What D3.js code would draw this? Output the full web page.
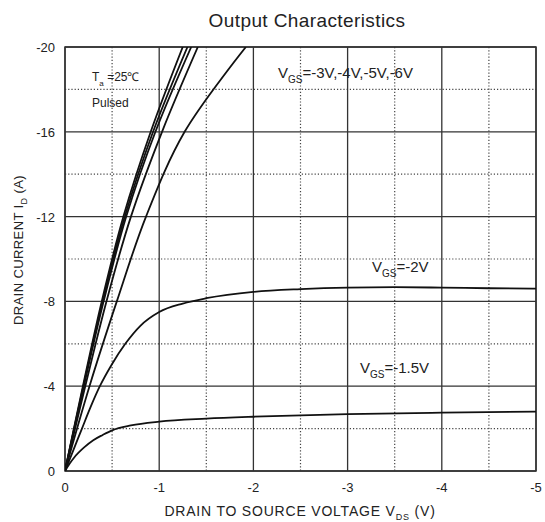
<!DOCTYPE html>
<html>
<head>
<meta charset="utf-8">
<script src="https://cdn.jsdelivr.net/npm/d3@7"></script>
<style>
  body { margin: 0; background: #fff; }
  svg { display: block; font-family: "Liberation Sans", Arial, sans-serif; }
</style>
</head>
<body>
<div id="chart"></div>
<script>
// Data (Vds in V, Id in A)
const xTicks = [0, -1, -2, -3, -4, -5];
const yTicks = [0, -4, -8, -12, -16, -20];

// Vgs = -1.5V
const vds15 = [0, -0.05, -0.1, -0.2, -0.3, -0.4, -0.5, -0.7, -1, -1.5, -2, -3, -4, -5];
const id15 = [0, -0.35, -0.65, -1.1, -1.45, -1.7, -1.92, -2.15, -2.33, -2.47, -2.56, -2.68, -2.75, -2.8];

// Vgs = -2V
const vds20 = [0, -0.09, -0.18, -0.27, -0.37, -0.5, -0.64, -0.8, -1, -1.25, -1.5, -2, -2.5, -3, -3.5, -4, -4.5, -5];
const id20 = [0, -1, -2, -3, -4, -5.05, -6, -6.85, -7.5, -7.9, -8.15, -8.45, -8.58, -8.65, -8.67, -8.65, -8.62, -8.6];

// steep curves, sampled along Id
const idSteep = [0, -4, -8, -12, -16, -20];
const vds25 = [0, -0.26, -0.55, -0.86, -1.27, -1.92];
const vds30 = [0, -0.215, -0.44, -0.70, -1.03, -1.41];
const vds40 = [0, -0.20, -0.41, -0.65, -0.96, -1.34];
const vds50 = [0, -0.195, -0.40, -0.635, -0.935, -1.30];
const vds60 = [0, -0.19, -0.39, -0.62, -0.91, -1.25];

const width = 545, height = 522;
const margin = { top: 47, right: 9, bottom: 51, left: 65 };
const plotW = width - margin.left - margin.right;
const plotH = height - margin.top - margin.bottom;

const svg = d3.select("#chart").append("svg")
    .attr("width", width)
    .attr("height", height);

const x = d3.scaleLinear().domain([0, -5]).range([0, plotW]);
const y = d3.scaleLinear().domain([0, -20]).range([plotH, 0]);

const chart = svg.append("g")
    .attr("transform", `translate(${margin.left},${margin.top})`);

// dotted minor grid
const minorX = [-0.5, -1.5, -2.5, -3.5, -4.5];
const minorY = [-2, -6, -10, -14, -18];
chart.selectAll(".minor-x").data(minorX).enter().append("line")
    .attr("x1", d => x(d)).attr("x2", d => x(d))
    .attr("y1", 0).attr("y2", plotH)
    .attr("stroke", "#444").attr("stroke-width", 1.2)
    .attr("stroke-dasharray", "1.2,2");
chart.selectAll(".minor-y").data(minorY).enter().append("line")
    .attr("x1", 0).attr("x2", plotW)
    .attr("y1", d => y(d)).attr("y2", d => y(d))
    .attr("stroke", "#444").attr("stroke-width", 1.2)
    .attr("stroke-dasharray", "1.2,2");

// solid major grid
chart.selectAll(".major-x").data(xTicks).enter().append("line")
    .attr("x1", d => x(d)).attr("x2", d => x(d))
    .attr("y1", 0).attr("y2", plotH)
    .attr("stroke", "#333").attr("stroke-width", 1.3);
chart.selectAll(".major-y").data(yTicks).enter().append("line")
    .attr("x1", 0).attr("x2", plotW)
    .attr("y1", d => y(d)).attr("y2", d => y(d))
    .attr("stroke", "#333").attr("stroke-width", 1.3);
chart.append("rect")
    .attr("width", plotW).attr("height", plotH)
    .attr("fill", "none").attr("stroke", "#333").attr("stroke-width", 1.5);

// tick labels
chart.selectAll(".xlab").data(xTicks).enter().append("text")
    .attr("x", d => x(d)).attr("y", plotH + 21)
    .attr("text-anchor", "middle")
    .style("font-size", "13px").attr("fill", "#222")
    .text(d => d === 0 ? "0" : "-" + Math.abs(d));
chart.selectAll(".ylab").data(yTicks).enter().append("text")
    .attr("x", -10).attr("y", d => y(d) + 5)
    .attr("text-anchor", "end")
    .style("font-size", "13px").attr("fill", "#222")
    .text(d => d === 0 ? "0" : "-" + Math.abs(d));

// curves
chart.append("clipPath").attr("id", "clip")
    .append("rect").attr("width", plotW).attr("height", plotH);

const flatLine = d3.line()
    .x(d => x(d[0]))
    .y(d => y(d[1]))
    .curve(d3.curveMonotoneX);
const steepLine = d3.line()
    .x(d => x(d[0]))
    .y(d => y(d[1]))
    .curve(d3.curveCatmullRom.alpha(0.5));

const flatCurves = [d3.zip(vds15, id15), d3.zip(vds20, id20)];
const steepCurves = [vds25, vds30, vds40, vds50, vds60].map(v => d3.zip(v, idSteep));

const curveGroup = chart.append("g").attr("clip-path", "url(#clip)");
curveGroup.selectAll(".flat").data(flatCurves).enter().append("path")
    .attr("fill", "none")
    .attr("stroke", "#111")
    .attr("stroke-width", 1.8)
    .attr("d", flatLine);
curveGroup.selectAll(".steep").data(steepCurves).enter().append("path")
    .attr("fill", "none")
    .attr("stroke", "#111")
    .attr("stroke-width", 1.8)
    .attr("d", steepLine);

// annotations
function vgsLabel(px, py, rest) {
    const t = chart.append("text")
        .attr("x", px).attr("y", py)
        .style("font-size", "15px").attr("fill", "#222");
    t.append("tspan").text("V");
    t.append("tspan").attr("dy", 5).style("font-size", "10px").text("GS");
    t.append("tspan").attr("dy", -5).text(rest);
}
vgsLabel(213, 31, "=-3V,-4V,-5V,-6V");
vgsLabel(307, 225, "=-2V");
vgsLabel(295, 326, "=-1.5V");

const ta = chart.append("text")
    .attr("x", 27).attr("y", 34)
    .style("font-size", "12px").attr("fill", "#222");
ta.append("tspan").text("T");
ta.append("tspan").attr("dy", 5).style("font-size", "8px").text("a");
ta.append("tspan").attr("dy", -5).text(" =25℃");
chart.append("text")
    .attr("x", 27).attr("y", 60)
    .style("font-size", "12px").attr("fill", "#222")
    .text("Pulsed");

// titles
svg.append("text")
    .attr("x", 307).attr("y", 27)
    .attr("text-anchor", "middle")
    .style("font-size", "19px").style("letter-spacing", "0.4px").attr("fill", "#222")
    .text("Output Characteristics");

const xt = svg.append("text")
    .attr("x", 300).attr("y", 516)
    .attr("text-anchor", "middle")
    .style("font-size", "14px").style("letter-spacing", "0.8px").attr("fill", "#222");
xt.append("tspan").text("DRAIN TO SOURCE VOLTAGE V");
xt.append("tspan").attr("dy", 4).style("font-size", "9px").text("DS");
xt.append("tspan").attr("dy", -4).text(" (V)");

const yt = svg.append("text")
    .attr("transform", "translate(23,250) rotate(-90)")
    .attr("text-anchor", "middle")
    .style("font-size", "13px").style("letter-spacing", "0.4px").attr("fill", "#222");
yt.append("tspan").text("DRAIN CURRENT I");
yt.append("tspan").attr("dy", 4).style("font-size", "9px").text("D");
yt.append("tspan").attr("dy", -4).text(" (A)");
</script>
</body>
</html>
